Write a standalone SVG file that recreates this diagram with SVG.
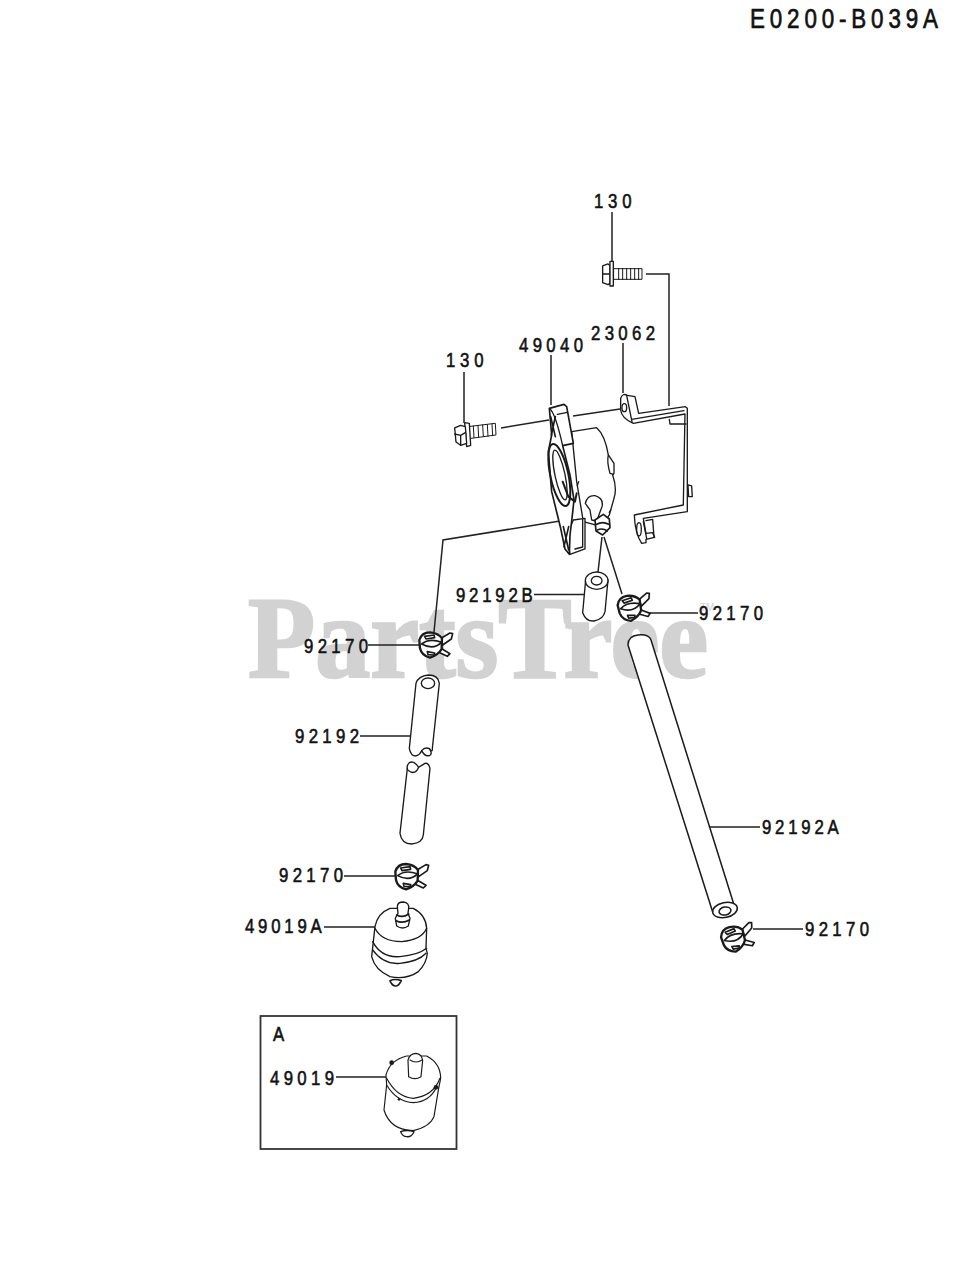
<svg xmlns="http://www.w3.org/2000/svg" width="977" height="1280" viewBox="0 0 977 1280">
<style>
.wm{font-family:"Liberation Serif","Times New Roman",serif;font-weight:700;fill:#d2d2d2;stroke:#d2d2d2;stroke-width:2.500}
.t{font-family:"Liberation Sans",Arial,sans-serif;font-size:21px;stroke:#111;stroke-width:.6;fill:#111}
.h{font-family:"Liberation Sans",Arial,sans-serif;font-size:28px;stroke:#111;stroke-width:.7;fill:#111}
.l{fill:none;stroke:#222;stroke-width:1.5}
.p{fill:#fff;stroke:#1a1a1a;stroke-width:4;stroke-linejoin:round;stroke-linecap:round}
.n{fill:none;stroke:#1a1a1a;stroke-width:4;stroke-linejoin:round;stroke-linecap:round}
.k{fill:#1a1a1a;stroke:none}
</style>
<defs>
<g id="clamp">
<path class="p" style="stroke-width:5" d="M33,-20L60,-36L68,-34L64,-18L38,0Z"/>
<path class="p" style="stroke-width:5" d="M33,10L60,26L52,34L26,22Z"/>
<path class="p" style="stroke-width:7" d="M-32,-15Q-25,-38 0,-38Q25,-36 36,-20L35,12Q25,30 0,38Q-25,32 -30,10Z"/>
<path class="p" style="stroke-width:5" d="M-25,-3Q-2,-22 35,-8Q10,16 -25,-3Z"/>
<path class="p" style="stroke-width:5" d="M-16,-26L12,-30L14,-22L-12,-18Z"/>
<path class="p" style="stroke-width:5" d="M-8,20L14,24L12,30L-6,29Z"/>
</g>
</defs>
<rect width="977" height="1280" fill="#fff"/>
<g id="watermark">
<text class="wm" x="248" y="677" font-size="116" textLength="460" lengthAdjust="spacingAndGlyphs">PartsTree</text>
<text x="700" y="611" font-size="10" font-family="Liberation Sans, sans-serif" fill="#d2d2d2">TM</text>
</g>
<text class="h" transform="translate(750,28) scale(.8,1)" textLength="235">E0200-B039A</text>
<g id="connectors">
<path class="l" d="M612,212V263M646,274H669V406"/>
<path class="l" d="M464,372V423M551,355V405M623,343V393"/>
<path class="l" d="M501,428L549,420M573,416L620,409"/>
<path class="l" d="M434,632L443,540L560,521"/>
<path class="l" d="M602,537L598,572M604,537L622,594"/>
<path class="l" d="M534,594.500H585M647,613H698M368,645H420M360,736H410M344,876H396M709,827H760M753,929H803M324,927H375M336,1077H386"/>
</g>
<g id="part-130-top" transform="translate(430,250) scale(.3333)">
<path class="p" d="M518,48L534,42L540,46L540,100L534,104L518,98Z"/>
<path class="n" d="M518,72H540"/>
<rect class="p" x="540" y="34" width="10" height="74"/>
<rect class="p" x="552" y="56" width="84" height="32" style="stroke-width:3"/>
<path class="n" style="stroke-width:3" d="M566,56V88M578,56V88M590,56V88M602,56V88M614,56V88M626,56V88"/>
</g>
<g id="part-130-left" transform="translate(430,250) scale(.3333)">
<path class="p" d="M114,530L196,520L198,555L116,566Z" style="stroke-width:3"/>
<path class="n" style="stroke-width:3" d="M130,528L132,563M144,527L146,562M158,525L160,560M172,524L174,559M186,522L188,557"/>
<path class="p" d="M104,518L118,520L122,586L110,590Z"/>
<path class="p" d="M74,534L92,526L106,530L110,580L92,586L78,576Z"/>
<path class="n" d="M74,552L92,556L92,586M92,556L106,548"/>
</g>
<g id="part-49040" transform="translate(540,395) scale(.3333)">
<path class="p" d="M95,110L170,98Q195,120 205,180L222,205L222,235L218,240Q232,280 222,310L208,360L185,395L130,380L110,260Z"/>
<path class="n" d="M205,180Q200,200 210,235L220,238"/>
<path class="p" d="M100,375L135,370L135,462L90,478L80,420Z"/>
<path class="n" d="M105,462L128,456L128,372"/>
<path class="p" style="stroke-width:5" d="M28,40L72,28L80,35L100,145L68,152L90,240L102,315L96,370L90,420L88,478L75,462L62,400L35,290L25,170L35,120Z"/>
<path class="n" d="M30,42Q46,55 68,152M52,58L82,52"/>
<ellipse class="n" style="stroke-width:6" cx="58" cy="240" rx="27" ry="95" transform="rotate(-12 58 240)"/>
<ellipse class="n" cx="60" cy="240" rx="15" ry="76" transform="rotate(-12 60 240)"/>
<path class="n" style="stroke-width:5" d="M32,65L46,125M46,65L34,120"/>
<path class="n" style="stroke-width:5" d="M70,395L86,465M86,395L72,455"/>
<path class="n" style="stroke-width:6" d="M68,260L85,305L105,320L110,295"/>
<path class="n" d="M116,260L112,272M212,345L208,352"/>
<path class="p" d="M136,325Q142,300 165,302Q192,310 186,335L170,378L155,375L150,345Z"/>
<path class="p" style="stroke-width:5" d="M165,375L190,358L208,372L210,398L188,420L168,408Z"/>
<path class="n" style="stroke-width:5" d="M170,388Q188,378 206,388M172,405Q188,398 202,408"/>
</g>
<g id="part-23062" transform="translate(430,250) scale(.3333)">
<path class="p" d="M774,705L785,708L787,740L776,740Z"/>
<path class="p" d="M572,445Q578,428 592,436L615,440L626,490L766,470L772,475L772,785L640,805L648,850L668,848L674,862L648,868L648,878L635,880Q615,850 613,795L760,765L765,492L610,520Q575,505 572,480Z"/>
<path class="n" d="M590,436L606,515M605,508L762,482M718,508L720,522H768M640,815L650,865M648,812L668,808L672,860"/>
<ellipse class="n" cx="583" cy="473" rx="7" ry="12"/>
<ellipse class="n" cx="627" cy="838" rx="7" ry="20"/>
</g>
<g id="part-92192B" transform="translate(570,560) scale(.3333)">
<path class="p" d="M47,60L38,158Q48,185 72,183Q100,178 105,155L114,60Z"/>
<ellipse class="p" cx="80" cy="62" rx="34" ry="26"/>
<ellipse class="n" cx="80" cy="62" rx="16" ry="13"/>
</g>
<g id="part-92170-a" transform="translate(570,560) scale(.3333)">
<use href="#clamp" transform="translate(177,145) rotate(-10)"/>
</g>
<g id="part-92192A">
<path class="p" style="stroke-width:1.500" d="M628,645Q628,636 638,635Q649,634 651,640L735,908L713,913Z"/>
<ellipse class="p" style="stroke-width:1.500" cx="725" cy="910" rx="12.500" ry="7.500" transform="rotate(-12 725 910)"/>
<ellipse class="n" style="stroke-width:1.500" cx="725" cy="911" rx="6" ry="4" transform="rotate(-12 725 911)"/>
</g>
<g id="part-92170-b" transform="translate(690,880) scale(.3333)">
<use href="#clamp" transform="translate(128,178) rotate(-15)"/>
</g>
<g id="part-92170-c" transform="translate(290,620) scale(.3333)">
<use href="#clamp" transform="translate(420,75)"/>
</g>
<g id="part-92192" transform="translate(290,620) scale(.3333)">
<path class="p" d="M378,190L358,385Q362,408 378,408Q390,404 395,392Q405,380 418,386Q428,400 427,385L448,190Q445,165 415,165Q385,168 378,190Z"/>
<ellipse class="n" cx="414" cy="190" rx="20" ry="16"/>
<path class="n" d="M395,392Q405,412 420,406Q428,400 418,386"/>
<path class="p" d="M352,445L330,640Q335,672 365,672Q398,668 400,645L420,445Q416,428 405,430Q395,436 386,442Q372,420 358,428Q350,436 352,445Z"/>
<path class="n" d="M386,442Q378,462 362,456Q350,450 352,445"/>
</g>
<g id="part-92170-d" transform="translate(290,620) scale(.3333)">
<use href="#clamp" transform="translate(348,770)"/>
</g>
<g id="part-49019A" transform="translate(290,620) scale(.3333)">
<path class="p" d="M255,920Q262,880 300,865L370,865Q408,885 410,925L408,985L412,1000Q410,1030 385,1055Q350,1080 300,1070Q255,1050 245,1010L250,965Z"/>
<path class="n" d="M255,925Q275,965 335,965Q395,960 410,925M248,965Q275,1015 330,1010Q385,1005 410,985M248,990Q280,1035 330,1030Q385,1025 408,1000"/>
<path class="p" style="stroke-width:5" d="M300,1082Q315,1075 334,1082Q325,1100 315,1098Q305,1096 300,1082Z"/>
<path class="p" d="M322,860Q322,846 340,846Q358,848 356,865L354,880L360,895L355,918Q338,930 320,918L316,895L324,880Z"/>
<path class="n" style="stroke-width:5" d="M320,885Q338,895 356,882M318,902Q338,912 358,900"/>
</g>
<g id="box-A">
<rect x="260.500" y="1016" width="196" height="133" fill="none" stroke="#333" stroke-width="1.800"/>
</g>
<g id="part-49019" transform="translate(250,1010) scale(.3333)">
<path class="p" style="stroke-width:3.500" d="M408,195Q420,150 470,138L530,138Q572,160 572,205L566,235L552,320Q540,350 490,362Q420,360 402,300L410,225Z"/>
<path class="n" style="stroke-width:3.500" d="M410,205Q440,262 490,265Q550,258 570,205M410,225Q440,275 490,278Q540,275 560,230"/>
<path class="p" d="M452,365Q470,358 492,365Q485,382 470,380Q458,380 452,365Z"/>
<path class="p" style="stroke-width:3.500" d="M474,150Q480,130 498,130Q516,132 518,152L513,200Q495,212 476,200Z"/>
<path class="n" style="stroke-width:3.500" d="M480,150Q498,162 516,150"/>
<circle class="k" cx="425" cy="158" r="7"/><circle class="k" cx="558" cy="232" r="7"/><circle class="k" cx="447" cy="268" r="4"/>
</g>
<g id="labels">
<text class="t" transform="translate(594,208) scale(.8,1)" textLength="47">130</text>
<text class="t" transform="translate(446,367) scale(.8,1)" textLength="47">130</text>
<text class="t" transform="translate(519,352) scale(.8,1)" textLength="80">49040</text>
<text class="t" transform="translate(591,340) scale(.8,1)" textLength="80">23062</text>
<text class="t" transform="translate(456,602) scale(.8,1)" textLength="96">92192B</text>
<text class="t" transform="translate(699,620) scale(.8,1)" textLength="80">92170</text>
<text class="t" transform="translate(304,653) scale(.8,1)" textLength="80">92170</text>
<text class="t" transform="translate(295,743) scale(.8,1)" textLength="80">92192</text>
<text class="t" transform="translate(279,882) scale(.8,1)" textLength="80">92170</text>
<text class="t" transform="translate(762,834) scale(.8,1)" textLength="96">92192A</text>
<text class="t" transform="translate(805,936) scale(.8,1)" textLength="80">92170</text>
<text class="t" transform="translate(245,933) scale(.8,1)" textLength="96">49019A</text>
<text class="t" transform="translate(273,1041) scale(.8,1)">A</text>
<text class="t" transform="translate(270,1085) scale(.8,1)" textLength="80">49019</text>
</g>
</svg>
